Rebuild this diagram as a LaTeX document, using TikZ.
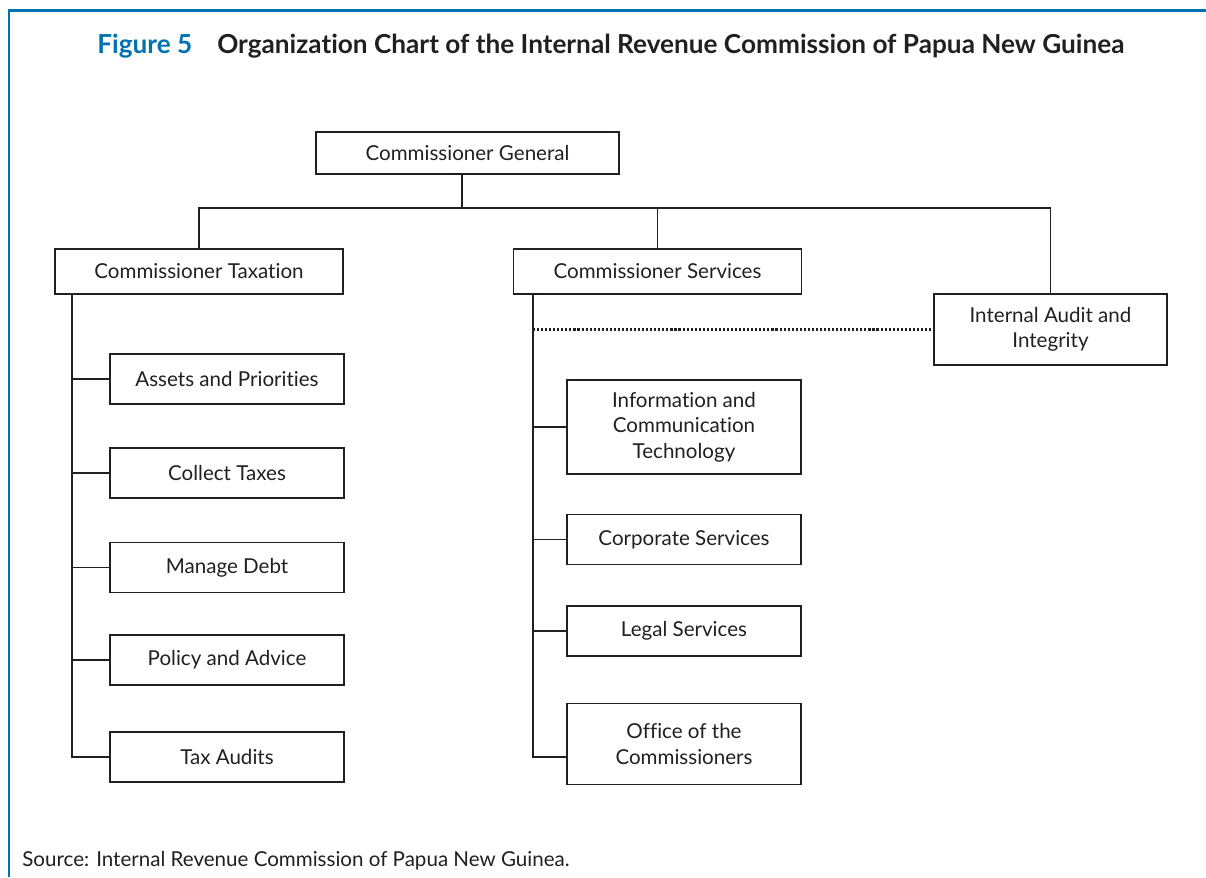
\documentclass[tikz,border=0pt]{standalone}
\usepackage{fontspec}
\setmainfont{Lato}[Ligatures=NoCommon]
\usetikzlibrary{positioning}
\definecolor{figblue}{RGB}{0,114,178}
\definecolor{inkgray}{RGB}{35,31,32}

\begin{document}
\begin{tikzpicture}[x=0.02cm,y=-0.02cm]
		\tikzstyle{every node}=[text=inkgray,font=\fontsize{11.7}{14.4}\selectfont]
		\tikzstyle{box}=[draw=inkgray,line width=0.85pt,align=center,inner sep=0pt]
		\tikzstyle{headbox}=[box,minimum width=5.76cm,minimum height=0.9cm]
		\tikzstyle{unitbox}=[box,minimum width=4.68cm,minimum height=1cm]
		\tikzstyle{link}=[draw=inkgray,line width=0.85pt]
		
		\useasboundingbox (0,0) rectangle (1206,877);
		% frame
		\draw[figblue,line width=1.7pt] (9,877) -- (9,10) -- (1206,10);
		
		% title
		\node[anchor=base west,inner sep=0pt,font=\fontsize{14.9}{17}\selectfont\bfseries] (title) at (97,53)
		{\textcolor{figblue}{Figure 5}\hspace{0.5cm}Organization Chart of the Internal Revenue Commission of Papua New Guinea};
		
		% top
		\node[box,minimum width=6.06cm,minimum height=0.84cm] (cg) at (467.5,153) {Commissioner General};
		\node[headbox] (tax) at (199,271.5) {Commissioner Taxation};
		\node[headbox] (serv) at (657.5,271.5) {Commissioner Services};
		\node[box,minimum width=4.66cm,minimum height=1.42cm] (audit) at (1050.5,329.5) {Internal Audit and\\Integrity};
		
		% taxation units
		\node[unitbox] (assets) at (227,379) {Assets and Priorities};
		\node[unitbox] (collect) at (227,473) {Collect Taxes};
		\node[unitbox] (debt) at (227,567.5) {Manage Debt};
		\node[unitbox] (policy) at (227,660) {Policy and Advice};
		\node[unitbox] (audits) at (227,757) {Tax Audits};
		
		% services units
		\node[unitbox,minimum height=1.88cm] (ict) at (684,427) {Information and\\Communication\\Technology};
		\node[unitbox] (corp) at (684,539.5) {Corporate Services};
		\node[unitbox] (legal) at (684,631) {Legal Services};
		\node[unitbox,minimum height=1.62cm] (office) at (684,744) {Office of the\\Commissioners};
		
		% connectors
		\coordinate (bus) at (462,208);
		\coordinate (ltrunk) at (72,0);
		\coordinate (mtrunk) at (533,0);
		\coordinate (officein) at (567,757);
		
		\draw[link] (cg.south -| bus) -- (bus);
		\draw[link] (tax.north) |- (audit.north |- bus) -- (audit.north);
		\draw[link] (serv.north) -- (serv.north |- bus);
		
		\draw[link] (tax.south -| ltrunk) -- (audits.west -| ltrunk) -- (audits.west);
		\foreach \unit in {assets,collect,debt,policy}
			\draw[link] (\unit.west -| ltrunk) -- (\unit.west);
		
		\draw[link] (serv.south -| mtrunk) -- (officein -| mtrunk) -- (officein);
		\foreach \unit in {ict,corp,legal}
			\draw[link] (\unit.west -| mtrunk) -- (\unit.west);
		\draw[link,line width=1.2pt,dash pattern=on 1.2pt off 1.1pt] (mtrunk |- audit.west) -- (audit.west);
		
		% source
		\node[anchor=base west,inner sep=0pt] (source) at (22,866) {Source: Internal Revenue Commission of Papua New Guinea.};
\end{tikzpicture}
\end{document}
